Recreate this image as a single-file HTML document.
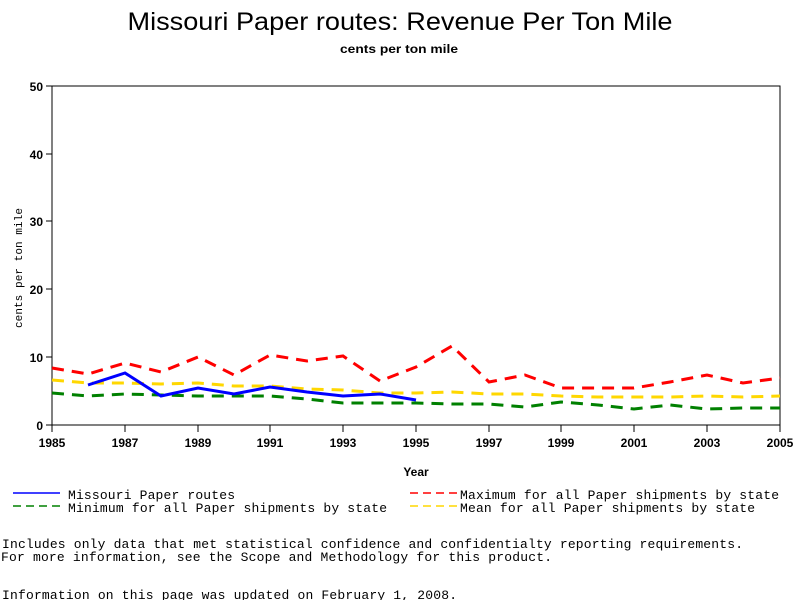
<!DOCTYPE html>
<html><head><style>body{margin:0;background:#fff}svg{display:block}</style></head><body>
<svg width="800" height="600" xmlns="http://www.w3.org/2000/svg" font-family="Liberation Sans, sans-serif">
<text x="400" y="30" text-anchor="middle" font-size="25" textLength="545" lengthAdjust="spacingAndGlyphs">Missouri Paper routes: Revenue Per Ton Mile</text>
<text x="399" y="53" text-anchor="middle" font-size="12" font-weight="bold" textLength="118" lengthAdjust="spacingAndGlyphs">cents per ton mile</text>
<rect x="52" y="86" width="728" height="339" fill="none" stroke="#000" stroke-width="1"/>
<g stroke="#000" stroke-width="1">
<line x1="46" y1="425" x2="52" y2="425"/><line x1="46" y1="357" x2="52" y2="357"/><line x1="46" y1="289" x2="52" y2="289"/><line x1="46" y1="221" x2="52" y2="221"/><line x1="46" y1="154" x2="52" y2="154"/><line x1="46" y1="86" x2="52" y2="86"/>
<line x1="52" y1="425" x2="52" y2="432"/><line x1="125" y1="425" x2="125" y2="432"/><line x1="198" y1="425" x2="198" y2="432"/><line x1="270" y1="425" x2="270" y2="432"/><line x1="343" y1="425" x2="343" y2="432"/><line x1="416" y1="425" x2="416" y2="432"/><line x1="489" y1="425" x2="489" y2="432"/><line x1="561" y1="425" x2="561" y2="432"/><line x1="634" y1="425" x2="634" y2="432"/><line x1="707" y1="425" x2="707" y2="432"/><line x1="780" y1="425" x2="780" y2="432"/>
</g>
<g font-size="12" font-weight="bold" text-anchor="end">
<text x="43" y="430">0</text><text x="43" y="362">10</text><text x="43" y="294">20</text><text x="43" y="226">30</text><text x="43" y="159">40</text><text x="43" y="91">50</text>
</g>
<g font-size="12" font-weight="bold" text-anchor="middle">
<text x="52" y="447">1985</text><text x="125" y="447">1987</text><text x="198" y="447">1989</text><text x="270" y="447">1991</text><text x="343" y="447">1993</text><text x="416" y="447">1995</text><text x="489" y="447">1997</text><text x="561" y="447">1999</text><text x="634" y="447">2001</text><text x="707" y="447">2003</text><text x="780" y="447">2005</text>
<text x="416" y="476">Year</text>
</g>
<text transform="translate(22,268) rotate(-90)" text-anchor="middle" font-family="Liberation Mono, monospace" font-size="11" textLength="120" lengthAdjust="spacing">cents per ton mile</text>
<g fill="none" stroke-width="3" stroke-dasharray="12,8">
<polyline stroke="#008000" points="52,393 88,396 125,394 161,395 198,396 234,396 270,396 307,399 343,403 380,403 416,403 452,404 489,404 525,407 561,402 598,405 634,409 670,405 707,409 743,408 780,408"/>
<polyline stroke="#ffd700" points="52,380 88,383 125,383 161,384 198,383 234,386 270,386 307,389 343,390 380,393 416,393 452,392 489,394 525,394 561,396 598,397 634,397 670,397 707,396 743,397 780,396"/>
<polyline stroke="#ff0000" points="52,368 88,374 125,363 161,372 198,357 234,375 270,355 307,361 343,356 380,381 416,367 452,346 489,382 525,375 561,388 598,388 634,388 670,382 707,375 743,383 780,378"/>
</g>
<polyline fill="none" stroke="#0000ff" stroke-width="3" points="88,385 125,373 161,396 198,388 234,394 270,387 307,392 343,396 380,394 416,400"/>
<g stroke-width="1.5">
<line x1="13" y1="493" x2="60" y2="493" stroke="#0000ff"/>
<line x1="13" y1="506" x2="60" y2="506" stroke="#008000" stroke-dasharray="8,5"/>
<line x1="410" y1="493" x2="457" y2="493" stroke="#ff0000" stroke-dasharray="8,5"/>
<line x1="410" y1="506" x2="457" y2="506" stroke="#ffd700" stroke-dasharray="8,5"/>
</g>
<g font-family="Liberation Mono, monospace" font-size="13" lengthAdjust="spacingAndGlyphs">
<text x="68" y="499" textLength="167">Missouri Paper routes</text>
<text x="68" y="512" textLength="319">Minimum for all Paper shipments by state</text>
<text x="460" y="499" textLength="319">Maximum for all Paper shipments by state</text>
<text x="460" y="512" textLength="295">Mean for all Paper shipments by state</text>
<text x="2" y="548" textLength="741">Includes only data that met statistical confidence and confidentialty reporting requirements.</text>
<text x="1" y="561" textLength="551">For more information, see the Scope and Methodology for this product.</text>
<text x="2" y="599" textLength="455">Information on this page was updated on February 1, 2008.</text>
</g>
</svg>
</body></html>
